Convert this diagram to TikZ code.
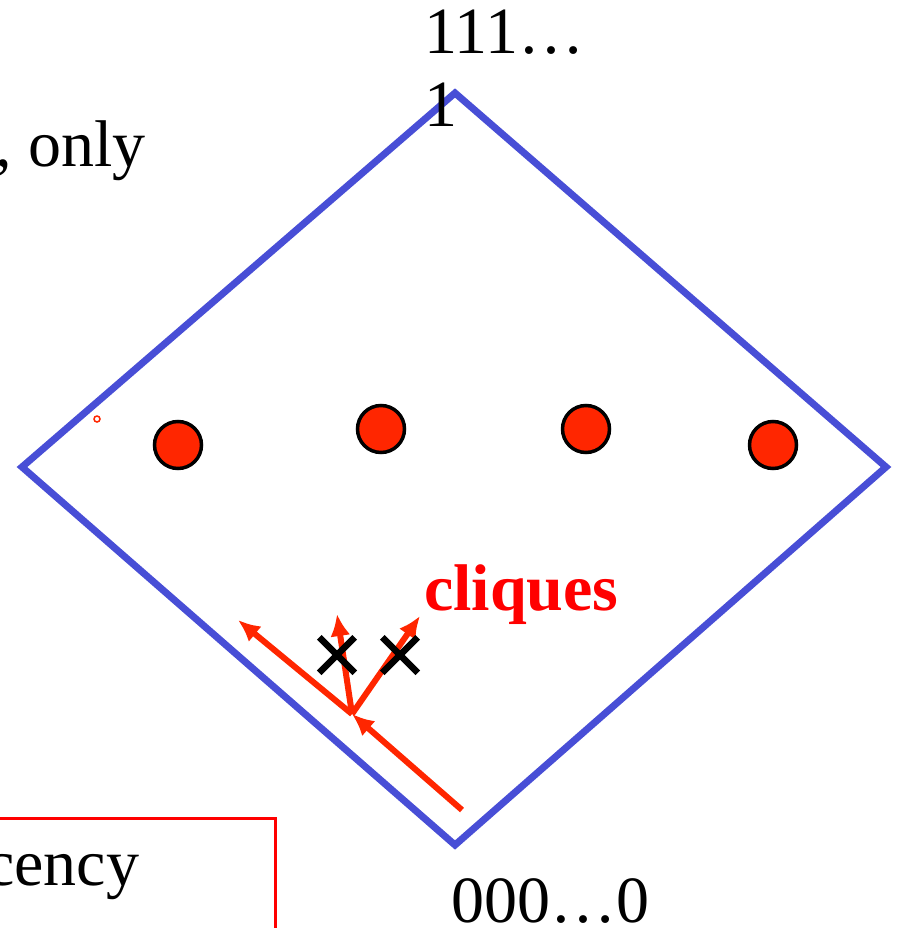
\documentclass[tikz,border=0pt]{standalone}
\usepackage{fontspec}
\setmainfont{Liberation Serif}
\usepackage{tikz}
\usetikzlibrary{arrows.meta,calc,positioning,shapes.misc}
\definecolor{diamondblue}{RGB}{72,78,214}
\definecolor{cliquered}{RGB}{255,38,0}

\begin{document}
\begin{tikzpicture}[x=1pt,y=-1pt,
        dot/.style={circle, draw=black, fill=cliquered, line width=3.5pt, minimum size=47pt, inner sep=0pt},
        crossmark/.style={cross out, draw=black, line width=6.5pt, minimum size=29pt, inner sep=0pt},
        redarrow/.style={-{Latex[length=22pt,width=20pt]}, cliquered, line width=6pt},
        label/.style={anchor=base west, inner sep=0pt, font=\fontsize{66}{75}\selectfont}]
                \useasboundingbox (0,0) rectangle (897,928);
                \clip (0,0) rectangle (897,928);
                \coordinate (top) at (455, 93);
                \coordinate (right) at (886, 467);
                \coordinate (bottom) at (455, 845);
                \coordinate (left) at (22, 467);
                \coordinate (start) at (462, 810);
                \coordinate (fork) at (352, 714);
                \coordinate (far) at (238, 620);
                \coordinate (up) at (337, 614);
                \coordinate (upright) at (420, 616);
                \draw[diamondblue, line width=7pt] (top) -- (right) -- (bottom) -- (left) -- cycle;
                % text round the diamond
                \node[label] (ones) at (424, 54) {111…};
                \node[label] (onelast) at (424, 127) {1};
                \node[label] (only) at (-5, 167) {, only};
                \node[label] (zeros) at (451, 922) {000…0};
                \node[label] (cency) at (-15, 885) {cency};
                \draw[red, line width=3pt] (-10, 818) -| (275, 940);
                % points
                \node[dot] (c1) at (178, 445) {};
                \node[dot] (c2) at (381, 429) {};
                \node[dot] (c3) at (586, 429) {};
                \node[dot] (c4) at (773, 445) {};
                \node[circle, draw=cliquered, line width=1.5pt, minimum size=6pt, inner sep=0pt] (mark) at (97, 419) {};
                % search arrows
                \draw[redarrow] (start) -- (fork);
                \draw[redarrow] (fork) -- (far);
                \draw[redarrow] (fork) -- (up);
                \draw[redarrow] (fork) -- (upright);
                \node[crossmark] (x1) at (337, 655) {};
                \node[crossmark] (x2) at (400, 655) {};
                \node[label, text=red, font=\fontsize{66}{75}\selectfont\bfseries] (cliques) at (424, 610) {cliques};
            \end{tikzpicture}
\end{document}
